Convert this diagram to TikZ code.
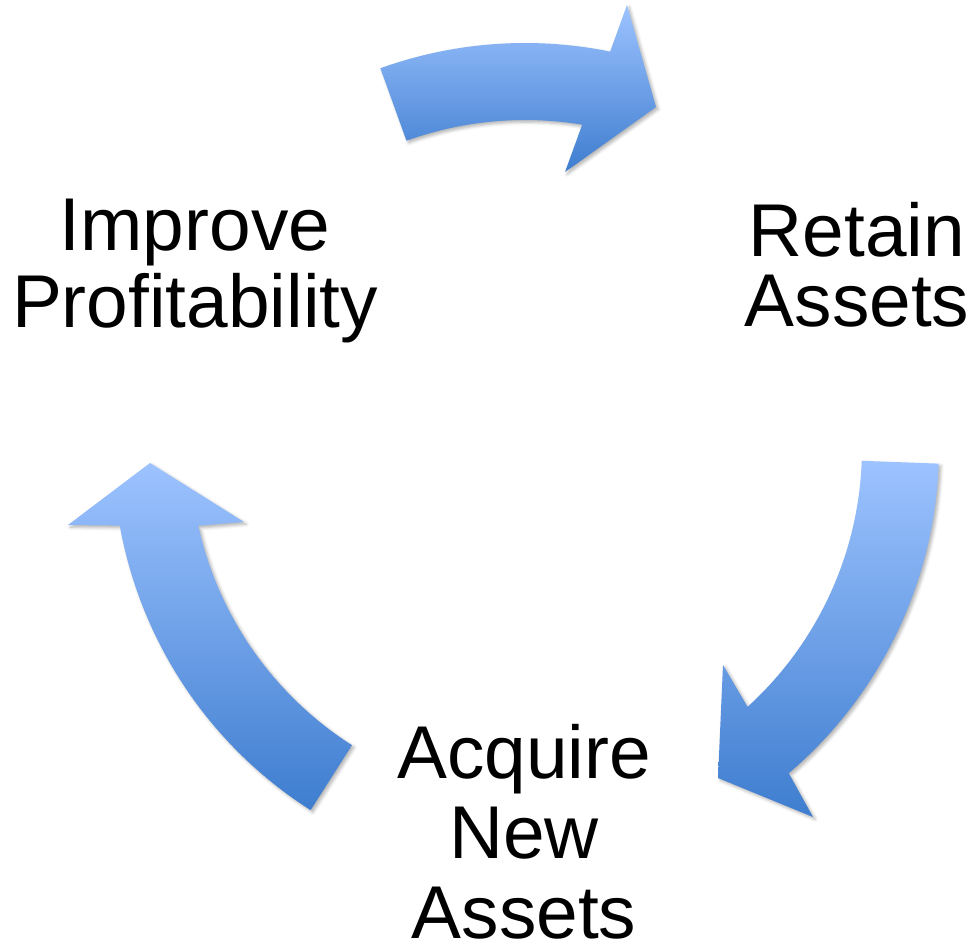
\documentclass[tikz,border=0pt]{standalone}
\usepackage{fontspec}
\setmainfont{Liberation Sans}
\usetikzlibrary{calc,shadows.blur}

\definecolor{arrowtop}{RGB}{157,195,255}
\definecolor{arrowbot}{RGB}{62,125,207}

\tikzset{
  cyclearrow/.style={
    top color=arrowtop, bottom color=arrowbot, draw=none,
    blur shadow={shadow xshift=1.6pt, shadow yshift=-1.6pt,
                 shadow blur radius=2.2pt, shadow opacity=30}},
  stagelabel/.style={align=center, anchor=base, inner sep=0pt},
}

\begin{document}
\begin{tikzpicture}[x=0.025cm, y=0.025cm]
  \useasboundingbox (0,0) rectangle (971,941);

  % centres of the three arcs
  \coordinate (c1) at (525,471);
  \coordinate (c2) at (512,493);
  \coordinate (c3) at (540,491);

  % head points
  \coordinate (h1a) at (627,936);
  \coordinate (h1t) at (656,834);
  \coordinate (h1b) at (565,769);
  \coordinate (h2a) at (813,124);
  \coordinate (h2t) at (718,163);
  \coordinate (h2b) at (723,276);
  \coordinate (h3a) at (68,416);
  \coordinate (h3t) at (150,478);
  \coordinate (h3b) at (244,419);

  % top arrow
  \path[cyclearrow] ($(c1)+(109.8:427)$) arc[start angle=109.8, end angle=78.5, radius=427]
    -- (h1a) -- (h1t) -- (h1b)
    -- ($(c1)+(80.6:350)$) arc[start angle=80.6, end angle=109.8, radius=350] -- cycle;

  % right arrow
  \path[cyclearrow] ($(c2)+(-2.1:427)$) arc[start angle=-2.1, end angle=-49.6, radius=427]
    -- (h2a) -- (h2t) -- (h2b)
    -- ($(c2)+(-47.7:350)$) arc[start angle=-47.7, end angle=-2.1, radius=350] -- cycle;

  % left arrow
  \path[cyclearrow] ($(c3)+(237.5:427)$) arc[start angle=237.5, end angle=190.2, radius=427]
    -- (h3a) -- (h3t) -- (h3b)
    -- ($(c3)+(192.5:350)$) arc[start angle=192.5, end angle=237.5, radius=350] -- cycle;

  % stage labels (anchored at the baseline of the last line)
  \node[stagelabel, font=\fontsize{53.2}{54.8}\selectfont] (improve) at (195,613) {Improve\\Profitability};
  \node[stagelabel, font=\fontsize{53.2}{49.8}\selectfont] (retain) at (857,614) {Retain\\Assets};
  \node[stagelabel, font=\fontsize{53.2}{56.6}\selectfont] (acquire) at (524,3) {Acquire\\New\\Assets};
\end{tikzpicture}
\end{document}
